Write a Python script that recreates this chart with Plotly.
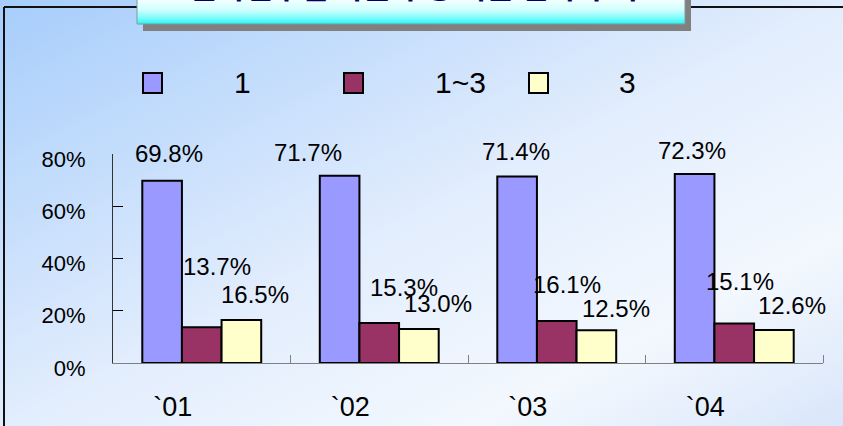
import base64
import plotly.graph_objects as go

# ---- data ----
categories = ["`01", "`02", "`03", "`04"]
series_names = ["1", "1~3", "3"]
share_lt1 = [69.8, 71.7, 71.4, 72.3]
share_1to3 = [13.7, 15.3, 16.1, 15.1]
share_gt3 = [16.5, 13.0, 12.5, 12.6]
y_ticks = [0, 20, 40, 60, 80]
y_tick_labels = [f"{v}%" for v in y_ticks]
title_text = "근속연수별 직원 구성 비율 변화 추이"

# ---- styling / layout constants ----
W, H = 843, 426
ML, MR, MT, MB = 113, 20, 154, 63
PW, PH = W - ML - MR, H - MT - MB
BAR_COLORS = ["#9999ff", "#993366", "#ffffcc"]
BARGAP = 0.33
FONT = "Arial, Liberation Sans, sans-serif"

# pixel offsets (dx, dy) of each value label from the top centre of its bar
LABEL_OFFSETS = [
    [(7, -27), (-32, -23), (-1, -25), (-3, -24)],
    [(15, -61), (25, -36), (10, -36), (6, -42)],
    [(14, -25), (19, -26), (20, -22), (18, -25)],
]
LEGEND_MARKER_PX = [143, 344, 529]
LEGEND_TEXT_PX = [232, 433, 617]


def px_x(px):
    return (px - ML) / PW


def px_y(py):
    return (H - MB - py) / PH


def svg_uri(svg):
    return "data:image/svg+xml;base64," + base64.b64encode(svg.encode("utf-8")).decode()


series = [share_lt1, share_1to3, share_gt3]
xs = list(range(len(categories)))

fig = go.Figure()
for name, vals, col in zip(series_names, series, BAR_COLORS):
    fig.add_trace(go.Bar(
        x=xs, y=vals, name=name, showlegend=False,
        marker=dict(color=col, line=dict(color="black", width=2)),
        hoverinfo="skip",
    ))

# value labels above the bars
bar_w = (1 - BARGAP) / len(series)
annotations = []
for k, vals in enumerate(series):
    for i, v in enumerate(vals):
        dx, dy = LABEL_OFFSETS[k][i]
        annotations.append(dict(
            x=i + (k - 1) * bar_w, y=v, xref="x", yref="y",
            text=f"{v:.1f}%", showarrow=False,
            xanchor="center", yanchor="middle",
            xshift=dx, yshift=-dy,
            font=dict(family=FONT, size=24, color="black"),
        ))

# hand-placed legend row
shapes = []
for name, col, mx, tx in zip(series_names, BAR_COLORS, LEGEND_MARKER_PX, LEGEND_TEXT_PX):
    shapes.append(dict(
        type="rect", xref="paper", yref="paper",
        x0=px_x(mx), x1=px_x(mx + 19), y0=px_y(93), y1=px_y(73),
        fillcolor=col, line=dict(color="black", width=2), layer="above",
    ))
    annotations.append(dict(
        x=px_x(tx), y=px_y(83), xref="paper", yref="paper",
        text=name, showarrow=False, xanchor="left", yanchor="middle",
        font=dict(family=FONT, size=30, color="black"),
    ))

# outer frame (top and left edges)
shapes.append(dict(type="line", xref="paper", yref="paper",
                   x0=px_x(4), x1=px_x(W + 10), y0=px_y(7), y1=px_y(7),
                   line=dict(color="#111111", width=2), layer="below"))
shapes.append(dict(type="line", xref="paper", yref="paper",
                   x0=px_x(4), x1=px_x(4), y0=px_y(7), y1=px_y(H + 10),
                   line=dict(color="#111111", width=2), layer="below"))
# title box shadow and border
shapes.append(dict(type="rect", xref="paper", yref="paper",
                   x0=px_x(143), x1=px_x(691), y0=px_y(31), y1=px_y(-20),
                   fillcolor="#808080", line=dict(width=0), layer="below"))
shapes.append(dict(type="rect", xref="paper", yref="paper",
                   x0=px_x(137), x1=px_x(685), y0=px_y(24), y1=px_y(-20),
                   fillcolor="rgba(0,0,0,0)", line=dict(color="#7d9aa0", width=1),
                   layer="above"))

annotations.append(dict(
    x=px_x(414), y=px_y(-15), xref="paper", yref="paper",
    text=f"<b>{title_text}</b>", showarrow=False,
    xanchor="center", yanchor="middle",
    font=dict(family="Noto Sans CJK KR", size=30, color="#000066"),
))

bg_svg = (
    f'<svg xmlns="http://www.w3.org/2000/svg" width="{W}" height="{H}" '
    f'viewBox="0 0 {W} {H}" preserveAspectRatio="none">'
    '<defs><linearGradient id="g" x1="0" y1="0" x2="1" y2="1">'
    '<stop offset="0" stop-color="#a6cdfb"/>'
    '<stop offset="0.5" stop-color="#e2edfd"/>'
    '<stop offset="0.78" stop-color="#f3f8fe"/>'
    '<stop offset="1" stop-color="#d9e6fa"/>'
    '</linearGradient></defs>'
    f'<rect width="{W}" height="{H}" fill="url(#g)"/></svg>'
)
title_svg = (
    '<svg xmlns="http://www.w3.org/2000/svg" width="548" height="44" '
    'viewBox="0 0 548 44" preserveAspectRatio="none">'
    '<defs><linearGradient id="t" x1="0" y1="0" x2="0" y2="1">'
    '<stop offset="0" stop-color="#ffffff"/>'
    '<stop offset="0.45" stop-color="#f4ffff"/>'
    '<stop offset="0.68" stop-color="#cffefe"/>'
    '<stop offset="0.86" stop-color="#80fbfb"/>'
    '<stop offset="1" stop-color="#25f8f8"/>'
    '</linearGradient></defs>'
    '<rect width="548" height="44" fill="url(#t)"/></svg>'
)

images = [
    dict(source=svg_uri(bg_svg), xref="paper", yref="paper",
         x=px_x(0), y=px_y(0), sizex=W / PW, sizey=H / PH,
         xanchor="left", yanchor="top", sizing="stretch", layer="below"),
    dict(source=svg_uri(title_svg), xref="paper", yref="paper",
         x=px_x(137), y=px_y(-20), sizex=548 / PW, sizey=44 / PH,
         xanchor="left", yanchor="top", sizing="stretch", layer="above"),
]

fig.update_layout(
    width=W, height=H,
    margin=dict(l=ML, r=MR, t=MT, b=MB, pad=0, autoexpand=False),
    paper_bgcolor="white", plot_bgcolor="rgba(0,0,0,0)",
    barmode="group", bargap=BARGAP, bargroupgap=0,
    showlegend=False,
    font=dict(family=FONT, color="black"),
    annotations=annotations, shapes=shapes, images=images,
    xaxis=dict(
        range=[-0.5, len(categories) - 0.5],
        tickvals=xs, ticktext=categories, ticks="",
        showline=True, linecolor="#808080", linewidth=1,
        showgrid=False, zeroline=False, automargin=False,
        tickfont=dict(family=FONT, size=27, color="black"),
        ticklabelshift=-29, ticklabelstandoff=20,
        minor=dict(tickvals=[i + 0.5 for i in xs], ticks="inside",
                   ticklen=8, tickcolor="#808080", tickwidth=1),
        fixedrange=True,
    ),
    yaxis=dict(
        range=[0, 80], tickvals=y_ticks, ticktext=y_tick_labels,
        ticks="inside", ticklen=10, tickcolor="black", tickwidth=1,
        showline=True, linecolor="#333333", linewidth=1,
        showgrid=False, zeroline=False, automargin=False,
        tickfont=dict(family=FONT, size=22, color="black"),
        ticklabelstandoff=22, ticklabelshift=5,
        fixedrange=True,
    ),
)

fig.write_html("out.html", config={"displayModeBar": False})
